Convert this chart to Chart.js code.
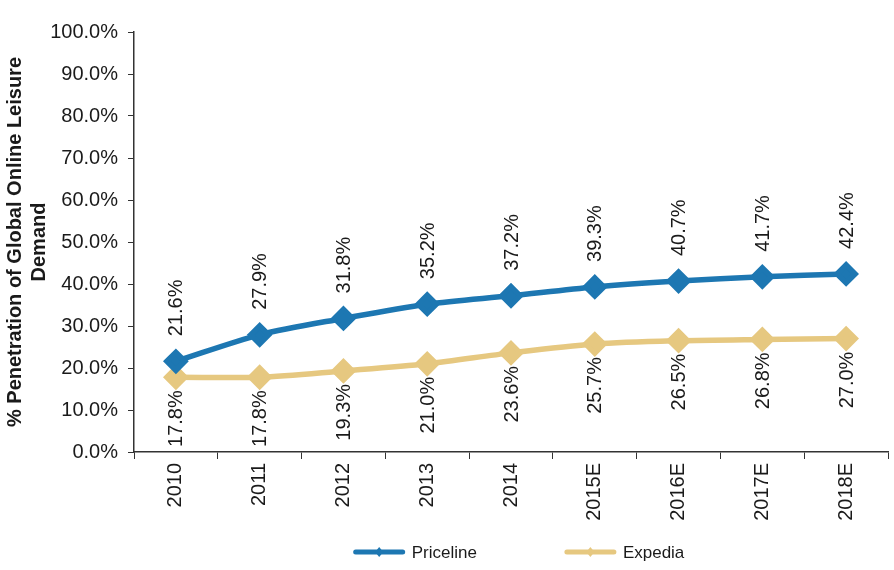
<!DOCTYPE html>
<html>
<head>
<meta charset="utf-8">
<script src="https://cdn.jsdelivr.net/npm/chart.js@4"></script>
<style>
  html, body { margin: 0; padding: 0; background: #fff; }
  #wrap { width: 894px; height: 570px; }
</style>
</head>
<body>
<div id="wrap"><canvas id="chart"></canvas></div>
<script>
const years = ['2010', '2011', '2012', '2013', '2014', '2015E', '2016E', '2017E', '2018E'];
const priceline = [21.6, 27.9, 31.8, 35.2, 37.2, 39.3, 40.7, 41.7, 42.4];
const expedia = [17.8, 17.8, 19.3, 21.0, 23.6, 25.7, 26.5, 26.8, 27.0];
const yTicks = [0, 10, 20, 30, 40, 50, 60, 70, 80, 90, 100];

const BLUE = '#1d77b2';
const TAN = '#e6c880';
const TEXT = '#1a1a1a';
const FONT = 'Arial, "Liberation Sans", sans-serif';

// rotated value labels: priceline above, expedia below
const valueLabels = {
    id: 'valueLabels',
    afterDatasetsDraw(chart) {
        const ctx = chart.ctx;
        ctx.save();
        ctx.font = '20px ' + FONT;
        ctx.fillStyle = TEXT;
        ctx.textBaseline = 'middle';
        chart.data.datasets.forEach((ds, i) => {
            const meta = chart.getDatasetMeta(i);
            meta.data.forEach((pt, j) => {
                const txt = ds.data[j].toFixed(1) + '%';
                ctx.save();
                ctx.translate(pt.x, pt.y);
                ctx.rotate(-Math.PI / 2);
                if (i === 0) {
                    ctx.textAlign = 'left';
                    ctx.fillText(txt, 25, 1);
                } else {
                    ctx.textAlign = 'right';
                    ctx.fillText(txt, -13, 1);
                }
                ctx.restore();
            });
        });
        ctx.restore();
    }
};

// legend: line with a diamond in the middle, then the name
const lineLegend = {
    id: 'lineLegend',
    afterDraw(chart) {
        const ctx = chart.ctx;
        const area = chart.chartArea;
        const markW = 51, textGap = 7, itemGap = 88, y = 552;
        ctx.save();
        ctx.font = '17px ' + FONT;
        const widths = chart.data.datasets.map(ds => markW + textGap + ctx.measureText(ds.label).width);
        const total = widths.reduce((a, b) => a + b, 0) + itemGap * (widths.length - 1);
        let x = (area.left + area.right) / 2 + 8 - total / 2;
        chart.data.datasets.forEach((ds, i) => {
            ctx.strokeStyle = ds.borderColor;
            ctx.fillStyle = ds.borderColor;
            ctx.lineWidth = 5;
            ctx.lineCap = 'round';
            ctx.beginPath(); ctx.moveTo(x + 2, y); ctx.lineTo(x + markW - 2, y); ctx.stroke();
            const cx = x + markW / 2;
            ctx.beginPath();
            ctx.moveTo(cx, y - 5); ctx.lineTo(cx + 4, y); ctx.lineTo(cx, y + 5); ctx.lineTo(cx - 4, y);
            ctx.closePath(); ctx.fill();
            ctx.fillStyle = TEXT;
            ctx.textAlign = 'left';
            ctx.textBaseline = 'middle';
            ctx.fillText(ds.label, x + markW + textGap, y + 1);
            x += widths[i] + itemGap;
        });
        ctx.restore();
    }
};

new Chart(document.getElementById('chart'), {
    type: 'line',
    data: {
        labels: years,
        datasets: [{
            label: 'Priceline',
            data: priceline,
            borderColor: BLUE,
            backgroundColor: BLUE,
            borderWidth: 5.5,
            pointStyle: 'rectRot',
            pointRadius: 9,
            pointHoverRadius: 9,
            tension: 0.3
        }, {
            label: 'Expedia',
            data: expedia,
            borderColor: TAN,
            backgroundColor: TAN,
            borderWidth: 5.5,
            pointStyle: 'rectRot',
            pointRadius: 9,
            pointHoverRadius: 9,
            tension: 0.3
        }]
    },
    options: {
        responsive: true,
        maintainAspectRatio: false,
        animation: false,
        layout: { autoPadding: false, padding: { top: 32, right: 6, left: 0, bottom: 43 } },
        plugins: {
            tooltip: { enabled: false },
            legend: { display: false }
        },
        scales: {
            x: {
                offset: true,
                grid: { offset: true, drawOnChartArea: false, drawTicks: true, tickLength: 7, color: '#333' },
                border: { color: '#333', width: 1.5 },
                ticks: {
                    color: TEXT,
                    font: { size: 20, family: FONT },
                    minRotation: 90,
                    maxRotation: 90,
                    padding: 4
                },
                afterFit(scale) {
                    scale.height = 75;
                    scale.paddingLeft = 0;
                    scale.paddingRight = 0;
                }
            },
            y: {
                min: 0,
                max: 100,
                afterBuildTicks(scale) { scale.ticks = yTicks.map(v => ({ value: v })); },
                grid: { drawOnChartArea: false, drawTicks: true, tickLength: 6, color: '#333' },
                border: { color: '#333', width: 1.5 },
                ticks: {
                    color: TEXT,
                    font: { size: 20, family: FONT },
                    padding: 10,
                    callback: v => v.toFixed(1) + '%'
                },
                title: {
                    display: true,
                    text: ['% Penetration of Global Online Leisure', 'Demand'],
                    color: TEXT,
                    font: { size: 20, weight: 'bold', family: FONT, lineHeight: 1.2 },
                    padding: { top: 3, bottom: 2 }
                },
                afterFit(scale) { scale.width = 134; }
            }
        }
    },
    plugins: [valueLabels, lineLegend]
});
</script>
</body>
</html>
